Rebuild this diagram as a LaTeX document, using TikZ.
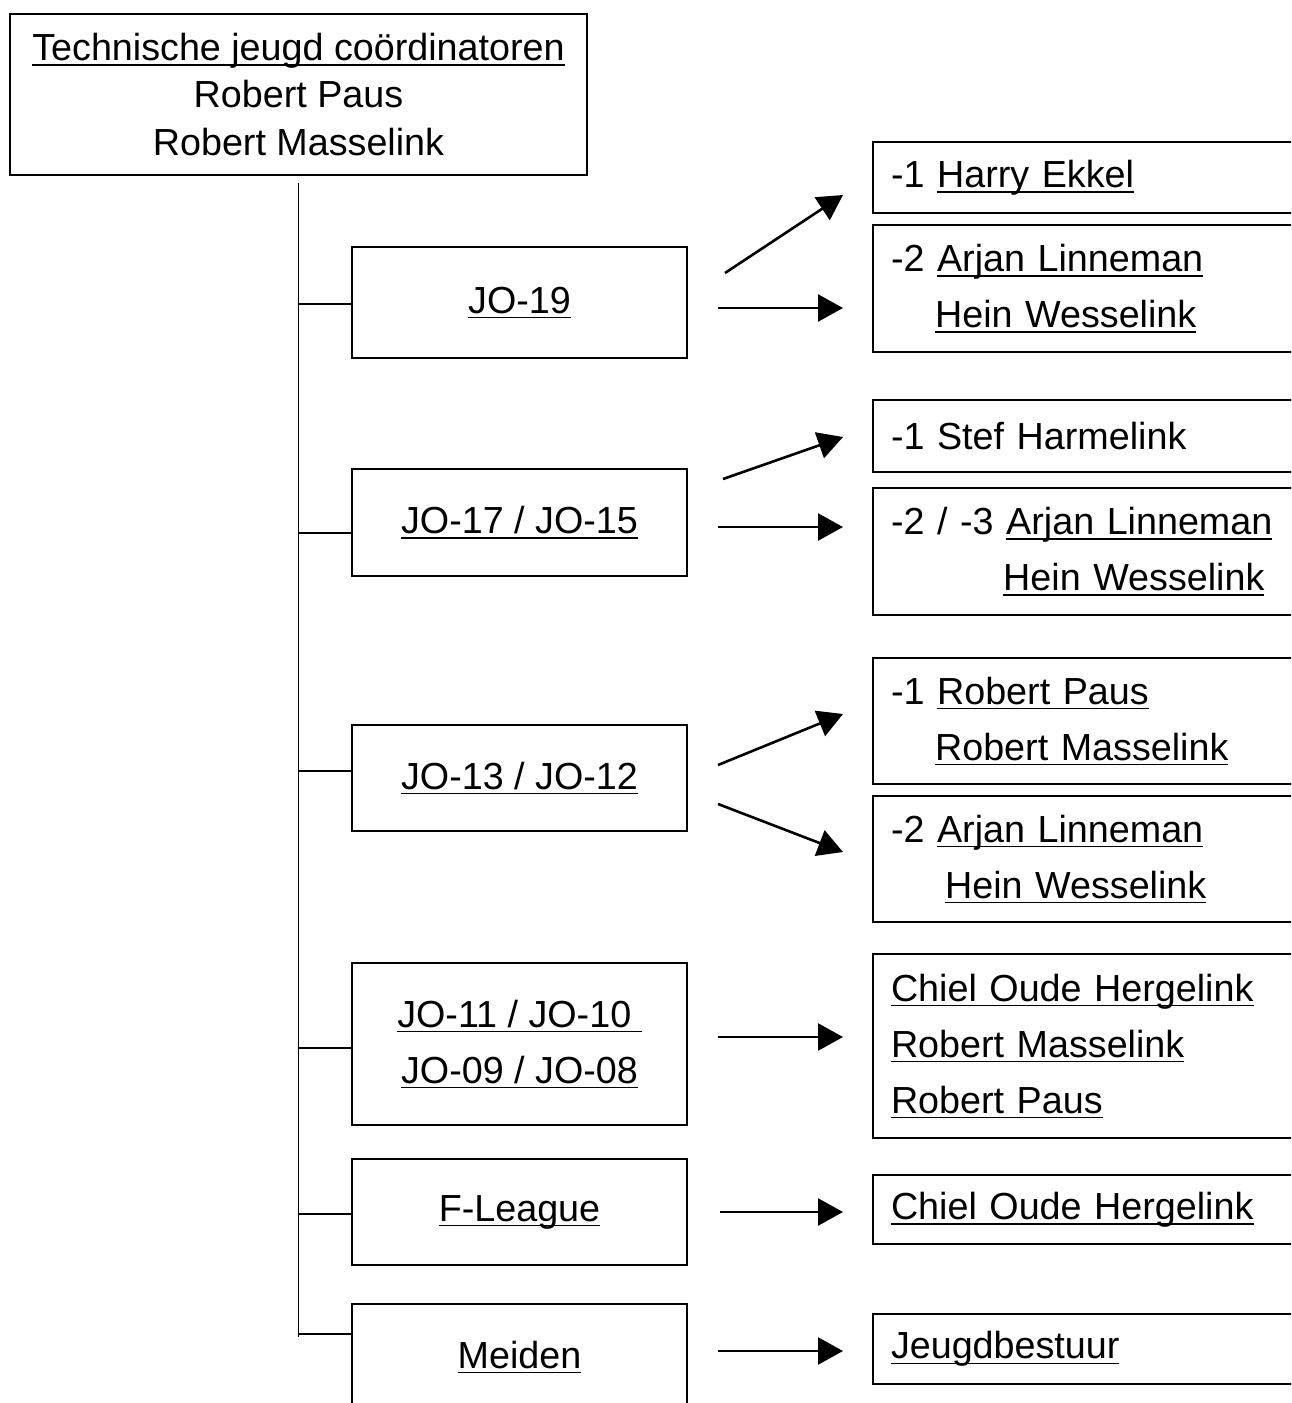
\documentclass[tikz,border=0pt]{standalone}
\usepackage{fontspec}
\setmainfont{Liberation Sans}
\usepackage{pgf,tikz}
\usetikzlibrary{arrows.meta}

\newcommand{\ulname}[1]{\leavevmode\sbox0{#1}\rlap{\rule[-0.14em]{\wd0}{0.04em}}\usebox0}

\begin{document}
\begin{tikzpicture}[x=0.5pt,y=-0.5pt,
  headbox/.style={draw,line width=0.9pt,minimum width=288.5pt,minimum height=80.5pt,
    align=center,inner sep=2pt,font=\fontsize{18.85pt}{23.75pt}\selectfont},
  grp/.style={draw,line width=1pt,minimum width=167.5pt,align=center,inner sep=2pt,
    font=\fontsize{18.85pt}{28pt}\selectfont},
  who/.style={draw,line width=1pt,anchor=west,text width=210pt,inner xsep=9pt,inner ysep=2pt,
    align=left,font=\fontsize{18.85pt}{28pt}\selectfont},
  arr/.style={line width=1.3pt,-{Triangle[length=12.5pt,width=13.5pt]}},
  stem/.style={line width=0.8pt}]
\useasboundingbox (0,0) rectangle (1291,1403);
\clip (0,0) rectangle (1291,1403);
\draw (298.5,94.5) node[headbox] (top) {\ulname{Technische jeugd coördinatoren}\\Robert Paus\\Robert Masselink};
  %----groups----%
  \draw (519.5,302.5) node[grp,minimum height=55.5pt] (jo19) {\ulname{JO-19}};
  \draw (519.5,522.5) node[grp,minimum height=53.5pt] (jo17) {\ulname{JO-17 / JO-15}};
  \draw (519.5,778) node[grp,minimum height=53pt] (jo13) {\ulname{JO-13 / JO-12}};
  \draw (519.5,1044) node[grp,minimum height=81pt] (jo11) {\ulname{JO-11 / JO-10\ }\\\ulname{JO-09 / JO-08}};
  \draw (519.5,1212) node[grp,minimum height=53pt] (fl) {\ulname{F-League}};
  \draw (519.5,1357) node[grp,minimum height=53pt] (meiden) {\ulname{Meiden}};
  %----people----%
  \draw (872,177.5) node[who,minimum height=35.5pt] (r1) {-1 \ulname{Harry Ekkel}};
  \draw (872,288.5) node[who,minimum height=63.5pt] (r2) {-2 \ulname{Arjan Linneman}\\\hphantom{-2 }\hspace{-1pt}\ulname{Hein Wesselink}};
  \draw (872,436) node[who,minimum height=36pt] (r3) {-1 Stef Harmelink};
  \draw (872,551.5) node[who,minimum height=63.5pt] (r4) {-2 / -3 \ulname{Arjan Linneman}\\\hphantom{-2 / -3 }\hspace{-1.5pt}\ulname{Hein Wesselink}};
  \draw (872,721) node[who,minimum height=63pt] (r5) {-1 \ulname{Robert Paus}\\\hphantom{-1 }\hspace{-1pt}\ulname{Robert Masselink}};
  \draw (872,859) node[who,minimum height=63pt] (r6) {-2 \ulname{Arjan Linneman}\\\hphantom{-2 }\hspace{4pt}\ulname{Hein Wesselink}};
  \draw (872,1046) node[who,minimum height=92pt] (r7) {\ulname{Chiel Oude Hergelink}\\\ulname{Robert Masselink}\\\ulname{Robert Paus}};
  \draw (872,1209.5) node[who,minimum height=34.5pt] (r8) {\ulname{Chiel Oude Hergelink}};
  \draw (872,1349) node[who,minimum height=35pt] (r9) {\ulname{Jeugdbestuur}};
  %----trunk----%
  \coordinate (trunktop) at ([yshift=-3.5pt]top.south);
  \coordinate (trunkend) at (299,1337);
  \draw[stem] (trunktop) -- (trunktop |- trunkend);
  \draw[stem] (trunktop |- 0,304) -- (jo19.west |- 0,304);
  \draw[stem] (trunktop |- 0,533) -- (jo17.west |- 0,533);
  \draw[stem] (trunktop |- 0,771) -- (jo13.west |- 0,771);
  \draw[stem] (trunktop |- 0,1048) -- (jo11.west |- 0,1048);
  \draw[stem] (trunktop |- 0,1214) -- (fl.west |- 0,1214);
  \draw[stem] (trunktop |- 0,1334) -- (meiden.west |- 0,1334);
  %----jo19----%
  \coordinate (a1s) at (725,273); \coordinate (a1e) at (843,195);
  \coordinate (a2s) at (718,308); \coordinate (a2e) at (843,308);
  \draw[arr] (a1s) -- (a1e);
  \draw[arr] (a2s) -- (a2e);
  %----jo17----%
  \coordinate (b1s) at (723,479); \coordinate (b1e) at (843,437);
  \coordinate (b2s) at (718,527); \coordinate (b2e) at (843,527);
  \draw[arr] (b1s) -- (b1e);
  \draw[arr] (b2s) -- (b2e);
  %----jo13----%
  \coordinate (c1s) at (718,765); \coordinate (c1e) at (843,714);
  \coordinate (c2s) at (718,804); \coordinate (c2e) at (843,852);
  \draw[arr] (c1s) -- (c1e);
  \draw[arr] (c2s) -- (c2e);
  %----jo11, f-league, meiden----%
  \coordinate (d1s) at (718,1037); \coordinate (d1e) at (843,1037);
  \coordinate (e1s) at (720,1212); \coordinate (e1e) at (843,1212);
  \coordinate (f1s) at (718,1351); \coordinate (f1e) at (843,1351);
  \draw[arr] (d1s) -- (d1e);
  \draw[arr] (e1s) -- (e1e);
  \draw[arr] (f1s) -- (f1e);
\end{tikzpicture}
\end{document}
